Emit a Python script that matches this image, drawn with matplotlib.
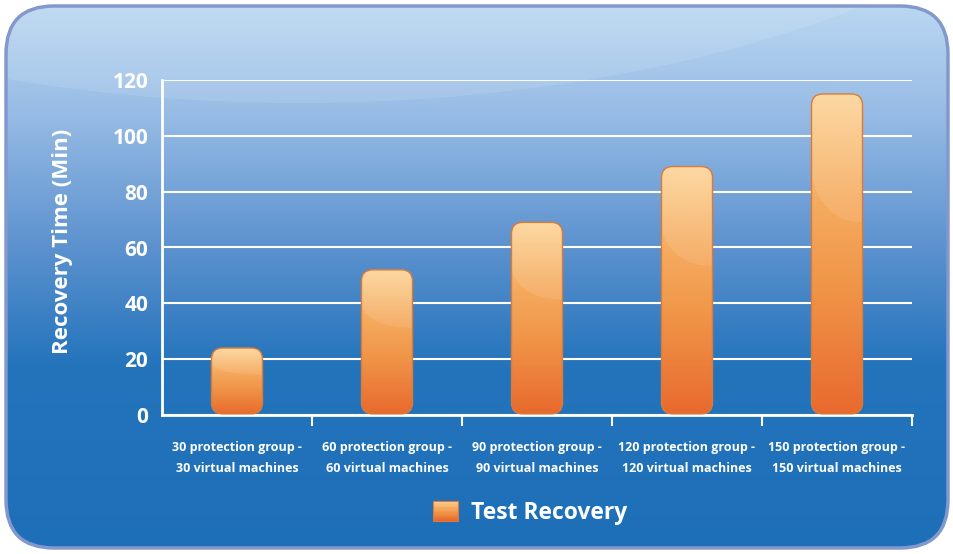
import matplotlib
matplotlib.use('Agg')
import matplotlib.pyplot as plt
import numpy as np
from matplotlib.patches import FancyBboxPatch, Ellipse, Rectangle, PathPatch, Patch
from matplotlib.path import Path
from matplotlib.colors import LinearSegmentedColormap
from matplotlib.legend_handler import HandlerBase

# data
categories = ['30 protection group -\n30 virtual machines',
              '60 protection group -\n60 virtual machines',
              '90 protection group -\n90 virtual machines',
              '120 protection group -\n120 virtual machines',
              '150 protection group -\n150 virtual machines']
recovery_time = [24, 52, 69, 89, 115]
y_ticks = [0, 20, 40, 60, 80, 100, 120]
series_name = 'Test Recovery'
y_title = 'Recovery Time (Min)'

plt.rcParams['font.family'] = ['Open Sans', 'DejaVu Sans']

W, H = 954, 554
fig = plt.figure(figsize=(W / 100, H / 100), dpi=100, facecolor='white')

bar_cmap = LinearSegmentedColormap.from_list(
    'bar', [(0, '#fdd599'), (0.35, '#f5aa5e'), (0.6, '#f09548'), (1, '#e8692d')])
bg_cmap = LinearSegmentedColormap.from_list(
    'bg', [(0, '#bcd8f2'), (0.2, '#98bce5'), (0.45, '#5b91ce'), (0.66, '#2474bc'), (1, '#1d6fb7')])
grad = np.linspace(0, 1, 256).reshape(-1, 1)

# background panel
bg = fig.add_axes([0, 0, 1, 1])
bg.axis('off')
panel = FancyBboxPatch((6, 6), W - 12, H - 12, boxstyle='round,pad=0,rounding_size=48',
                       facecolor='none', edgecolor='none')
bg.add_patch(panel)
im = bg.imshow(grad, cmap=bg_cmap, extent=(0, W, H, 0), aspect='auto', interpolation='bicubic')
im.set_clip_path(panel)
gloss = Ellipse((300, -307), 1740, 820, facecolor='white', edgecolor='none', alpha=0.11)
bg.add_patch(gloss)
gloss.set_clip_path(panel)
bg.add_patch(FancyBboxPatch((6, 6), W - 12, H - 12, boxstyle='round,pad=0,rounding_size=48',
                            facecolor='none', edgecolor='#8398cc', lw=2.5))
bg.set_xlim(0, W)
bg.set_ylim(H, 0)

# chart
ax = fig.add_axes([162 / W, 1 - 415 / H, 750 / W, 335 / H])
ax.patch.set_alpha(0)
x = np.arange(len(categories)) + 0.5
bars = ax.bar(x, recovery_time, width=0.34)

aspect = (120 / 335) / (5 / 750)
for b in bars:
    x0, w, h = b.get_x(), b.get_width(), b.get_height()
    b.set_visible(False)
    shape = FancyBboxPatch((x0, 0.4), w, h - 0.4, boxstyle='round,pad=0,rounding_size=0.075',
                           mutation_aspect=aspect, facecolor='none',
                           edgecolor='#dc7a38', lw=1, zorder=4)
    ax.add_patch(shape)
    fill = ax.imshow(grad, cmap=bar_cmap, extent=(x0, x0 + w, 0, h), aspect='auto',
                     interpolation='bicubic', zorder=3)
    fill.set_clip_path(shape)
    verts = [(x0, h), (x0, h * 0.75), (x0 + 0.2 * w, h * 0.6), (x0 + w, h * 0.6),
             (x0 + w, h), (x0, h)]
    codes = [Path.MOVETO, Path.LINETO, Path.CURVE3, Path.CURVE3, Path.LINETO, Path.CLOSEPOLY]
    shine = PathPatch(Path(verts, codes), facecolor='white', edgecolor='none', alpha=0.1, zorder=3.5)
    ax.add_patch(shine)
    shine.set_clip_path(shape)

ax.set_xlim(0, 5)
ax.set_ylim(0, 120)
for s in ['top', 'right']:
    ax.spines[s].set_visible(False)
for s in ['left', 'bottom']:
    ax.spines[s].set_color('white')
    ax.spines[s].set_linewidth(2)

ax.set_yticks(y_ticks)
ax.set_yticklabels([str(v) for v in y_ticks], fontsize=15, fontweight='bold', color='white')
ax.tick_params(axis='y', length=0, pad=10)
ax.yaxis.grid(True, color='white', lw=1.5)
ax.set_axisbelow(True)

ax.set_xticks([1, 2, 3, 4, 5])
ax.set_xticklabels([])
ax.tick_params(axis='x', which='major', length=8, width=1.5, color='white', direction='out')
ax.set_xticks(x, categories, minor=True, fontsize=9, fontweight='bold', color='white',
              linespacing=1.75)
ax.tick_params(axis='x', which='minor', length=0, pad=19)

ax.set_ylabel(y_title, fontsize=16, fontweight='bold', color='white')
ax.yaxis.set_label_coords(-0.118, 0.518)


class GradientHandler(HandlerBase):
    def create_artists(self, legend, orig_handle, xdescent, ydescent, width, height, fontsize, trans):
        n = 16
        out = []
        for i in range(n):
            out.append(Rectangle((-xdescent, -ydescent + height * (1 - (i + 1) / n)), width, height / n + 0.3,
                                 facecolor=bar_cmap(i / (n - 1)), edgecolor='none', transform=trans))
        out.append(Rectangle((-xdescent, -ydescent), width, height, facecolor='none',
                             edgecolor='#dc7a38', lw=0.8, transform=trans))
        return out


fig.legend(handles=[Patch()], labels=[series_name], handler_map={Patch: GradientHandler()},
           loc='center', bbox_to_anchor=(530 / W, 1 - 513 / H), frameon=False,
           prop=dict(weight='bold', size=16.5), labelcolor='white',
           handlelength=1.09, handleheight=1.0, handletextpad=0.57)

fig.savefig('out.png', dpi=100, facecolor='white')
